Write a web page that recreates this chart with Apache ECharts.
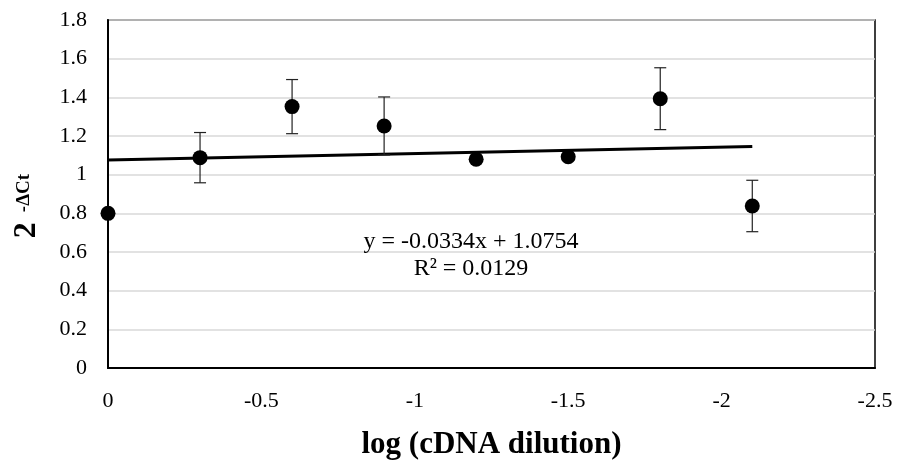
<!DOCTYPE html>
<html><head><meta charset="utf-8">
<script src="https://cdn.jsdelivr.net/npm/echarts@6/dist/echarts.min.js"></script>
<style>html,body{margin:0;padding:0;background:#fff}#c{width:897px;height:460px}</style>
</head><body><div id="c"></div>
<script>
const xValues = [0, -0.3, -0.6, -0.9, -1.2, -1.5, -1.8, -2.1];
const yValues = [0.80, 1.088, 1.352, 1.252, 1.08, 1.093, 1.393, 0.838];
const yErrors = [0, 0.13, 0.14, 0.15, 0.01, 0.01, 0.16, 0.133];
const trendX = [0, -2.1];
const trendY = [1.0754, 1.1455];
const xTicks = [0, -0.5, -1, -1.5, -2, -2.5];
const equationLines = ['y = -0.0334x + 1.0754', 'R² = 0.0129'];

const font = '"Liberation Serif","Times New Roman",serif';
const chart = echarts.init(document.getElementById('c'));
const points = xValues.map((x, i) => [x, yValues[i]]);
const errData = xValues.map((x, i) => [x, yValues[i] - yErrors[i], yValues[i] + yErrors[i]]);

chart.setOption({
  animation: false,
  backgroundColor: '#fff',
  grid: {left: 108, right: 22, top: 20, bottom: 92, show: true, borderColor: '#000', borderWidth: 1.5,
         containLabel: false, outerBoundsMode: 'none'},
  xAxis: {
    type: 'value', inverse: true, min: -2.5, max: 0, interval: 0.5,
    name: 'log (cDNA dilution)', nameLocation: 'middle', nameGap: 61,
    nameTextStyle: {fontFamily: font, fontSize: 31, fontWeight: 'bold', color: '#000'},
    axisLine: {show: true, onZero: false, lineStyle: {color: '#000', width: 2}},
    axisTick: {show: false},
    splitLine: {show: false},
    axisLabel: {fontFamily: font, fontSize: 22, color: '#000', margin: 22,
      formatter: v => { const t = xTicks.find(k => Math.abs(k - v) < 1e-9); return t === undefined ? '' : String(t); }}
  },
  yAxis: {
    type: 'value', min: 0, max: 1.8, interval: 0.2,
    name: '{b|2}{s|-ΔCt}', nameLocation: 'middle', nameGap: 64, nameRotate: 90,
    nameTextStyle: {fontFamily: font, color: '#000', padding: [0, 24, 0, 0],
      rich: {b: {fontFamily: font, fontSize: 32, fontWeight: 'bold', color: '#000', lineHeight: 34},
             s: {fontFamily: font, fontSize: 19, fontWeight: 'bold', color: '#000', verticalAlign: 'bottom', lineHeight: 19, padding: [0, 0, 10, 10]}}},
    axisLine: {show: true, onZero: false, lineStyle: {color: '#000', width: 2}},
    axisTick: {show: false},
    splitLine: {show: true, lineStyle: {color: '#d9d9d9', width: 1.5}},
    axisLabel: {fontFamily: font, fontSize: 22, color: '#000', margin: 21,
      formatter: v => Number(v.toFixed(1)).toString()}
  },
  series: [
    {
      type: 'line', data: trendX.map((x, i) => [x, trendY[i]]), symbol: 'none',
      lineStyle: {color: '#000', width: 3}, z: 3, silent: true
    },
    {
      type: 'custom', z: 4, data: errData,
      renderItem: (params, api) => {
        const x = api.value(0);
        const lo = api.coord([x, api.value(1)]);
        const hi = api.coord([x, api.value(2)]);
        const hw = 6;
        const st = {stroke: '#222', lineWidth: 1.2};
        return {type: 'group', children: [
          {type: 'line', shape: {x1: lo[0], y1: lo[1], x2: hi[0], y2: hi[1]}, style: st},
          {type: 'line', shape: {x1: lo[0]-hw, y1: lo[1], x2: lo[0]+hw, y2: lo[1]}, style: st},
          {type: 'line', shape: {x1: hi[0]-hw, y1: hi[1], x2: hi[0]+hw, y2: hi[1]}, style: st}
        ]};
      }
    },
    {
      type: 'scatter', data: points, symbol: 'circle', symbolSize: 15, z: 5,
      itemStyle: {color: '#000', opacity: 1}
    }
  ],
  graphic: [
    {type: 'text', x: 471, y: 242, style: {text: equationLines[0], fontFamily: font, fontSize: 24, fill: '#000', align: 'center', verticalAlign: 'middle'}, z: 10},
    {type: 'text', x: 471, y: 269, style: {text: equationLines[1], fontFamily: font, fontSize: 24, fill: '#000', align: 'center', verticalAlign: 'middle'}, z: 10}
  ]
});
</script></body></html>
